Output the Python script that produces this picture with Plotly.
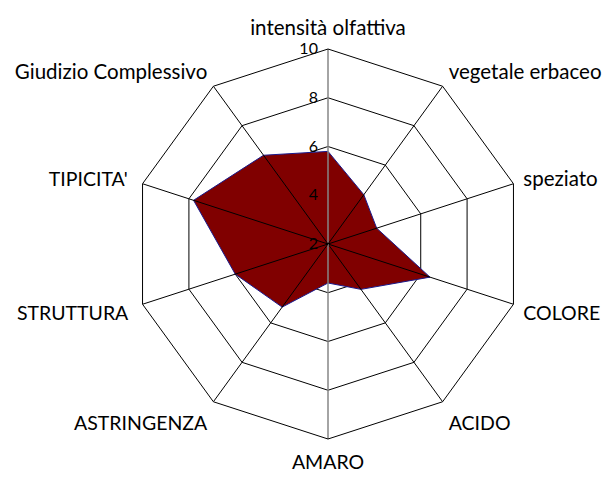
import plotly.graph_objects as go

categories = ["intensità olfattiva", "vegetale erbaceo", "speziato", "COLORE", "ACIDO",
              "AMARO", "ASTRINGENZA", "STRUTTURA", "TIPICITA'", "Giudizio Complessivo"]
values = [5.8, 4.5, 4.1, 6.4, 4.3, 3.6, 5.2, 6.0, 7.8, 6.5]
radial_ticks = [2, 4, 6, 8, 10]
r_min, r_max = 2, 10


def label_text(c):
    # lower-case labels set slightly larger so widths match the reference
    if c.upper() != c:
        txt = '<span style="font-size:20.5px">' + c + '</span>'
    else:
        txt = c
    if c in ("STRUTTURA", "TIPICITA'"):
        txt = txt + "\u00a0"
    return txt


tick_text = [label_text(c) for c in categories]

fig = go.Figure()

fig.add_trace(go.Scatterpolar(
    r=values + values[:1], theta=categories + categories[:1],
    mode="lines", fill="toself", fillcolor="#800000",
    line=dict(color="#1a1a8c", width=1), showlegend=False, hoverinfo="skip"))

# spokes above the fill
for i, c in enumerate(categories):
    col = "#868686" if c in ("intensità olfattiva", "AMARO") else "black"
    w = 1.5 if col != "black" else 1
    fig.add_trace(go.Scatterpolar(
        r=[r_min, r_max], theta=[c, c], mode="lines",
        line=dict(color=col, width=w), showlegend=False, hoverinfo="skip"))

fig.update_layout(
    width=611, height=478,
    margin=dict(l=0, r=0, t=0, b=0),
    paper_bgcolor="white",
    font=dict(family="Lato", color="black"),
    polar=dict(
        domain=dict(x=[125/611, 515/611], y=[1-431/478, 1-41/478]),
        bgcolor="white",
        gridshape="linear",
        angularaxis=dict(
            categoryorder="array", categoryarray=categories,
            tickmode="array", tickvals=categories, ticktext=tick_text,
            direction="clockwise", rotation=90,
            showgrid=False, showline=True, linecolor="black", linewidth=1,
            ticks="outside", ticklen=6, tickcolor="rgba(0,0,0,0)",
            tickfont=dict(size=19.5, family="Lato", color="black")),
        radialaxis=dict(
            range=[r_min, r_max], tickvals=radial_ticks, angle=90,
            side="counterclockwise",
            showline=False, showgrid=True, gridcolor="black", gridwidth=1,
            ticks="outside", ticklen=4, tickcolor="rgba(0,0,0,0)",
            tickfont=dict(size=16, family="Lato", color="black"),
            tickangle=90),
    ),
)

fig.write_html("out.html")
